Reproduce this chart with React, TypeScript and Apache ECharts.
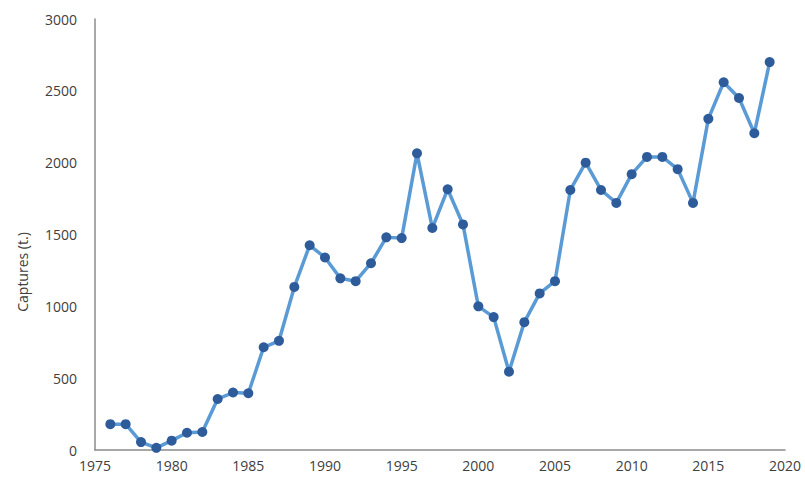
import React, { useEffect, useRef } from "react";
import * as echarts from "echarts";

const years = [1976,1977,1978,1979,1980,1981,1982,1983,1984,1985,1986,1987,1988,1989,1990,1991,1992,1993,1994,1995,1996,1997,1998,1999,2000,2001,2002,2003,2004,2005,2006,2007,2008,2009,2010,2011,2012,2013,2014,2015,2016,2017,2018,2019];
const captures = [180,180,55,15,65,120,125,355,400,395,715,760,1135,1425,1340,1195,1175,1300,1480,1475,2065,1545,1815,1570,1000,925,545,890,1090,1175,1810,2000,1810,1720,1920,2040,2040,1955,1720,2305,2560,2450,2205,2700];
const yAxisName = "Captures (t.)";

export default function App() {
  const ref = useRef<HTMLDivElement>(null);
  useEffect(() => {
    const chart = echarts.init(ref.current!, null, { renderer: "svg" });
    const font = "'Open Sans', 'Liberation Sans', sans-serif";
    chart.setOption({
      animation: false,
      backgroundColor: "#ffffff",
      grid: { left: 95, right: 20, top: 19, bottom: 28, containLabel: false },
      xAxis: {
        type: "value",
        min: 1975,
        max: 2020,
        interval: 5,
        axisLine: { show: true, lineStyle: { color: "#8c8c8c", width: 1.5 } },
        axisTick: { show: false },
        splitLine: { show: false },
        axisLabel: { color: "#404040", fontSize: 14, fontFamily: font, margin: 8, formatter: (v: number) => String(v) },
      },
      yAxis: {
        type: "value",
        min: 0,
        max: 3000,
        interval: 500,
        axisLine: { show: true, lineStyle: { color: "#8c8c8c", width: 1.5 } },
        axisTick: { show: false },
        splitLine: { show: false },
        axisLabel: { color: "#404040", fontSize: 14, fontFamily: font, margin: 18, formatter: (v: number) => String(v) },
      },
      graphic: [
        {
          type: "text",
          x: 22,
          y: 272,
          rotation: Math.PI / 2,
          style: {
            text: yAxisName,
            fill: "#404040",
            fontSize: 14,
            fontFamily: font,
            align: "center",
            verticalAlign: "middle",
          },
        },
      ],
      series: [
        {
          type: "line",
          data: years.map((y, i) => [y, captures[i]]),
          symbol: "circle",
          symbolSize: 10,
          lineStyle: { color: "#5b9bd5", width: 3.5 },
          itemStyle: { color: "#2e5c9a" },
        },
      ],
    });
    return () => chart.dispose();
  }, []);
  return <div ref={ref} style={{ position: "absolute", left: 0, top: 0, width: 805, height: 478 }} />;
}
